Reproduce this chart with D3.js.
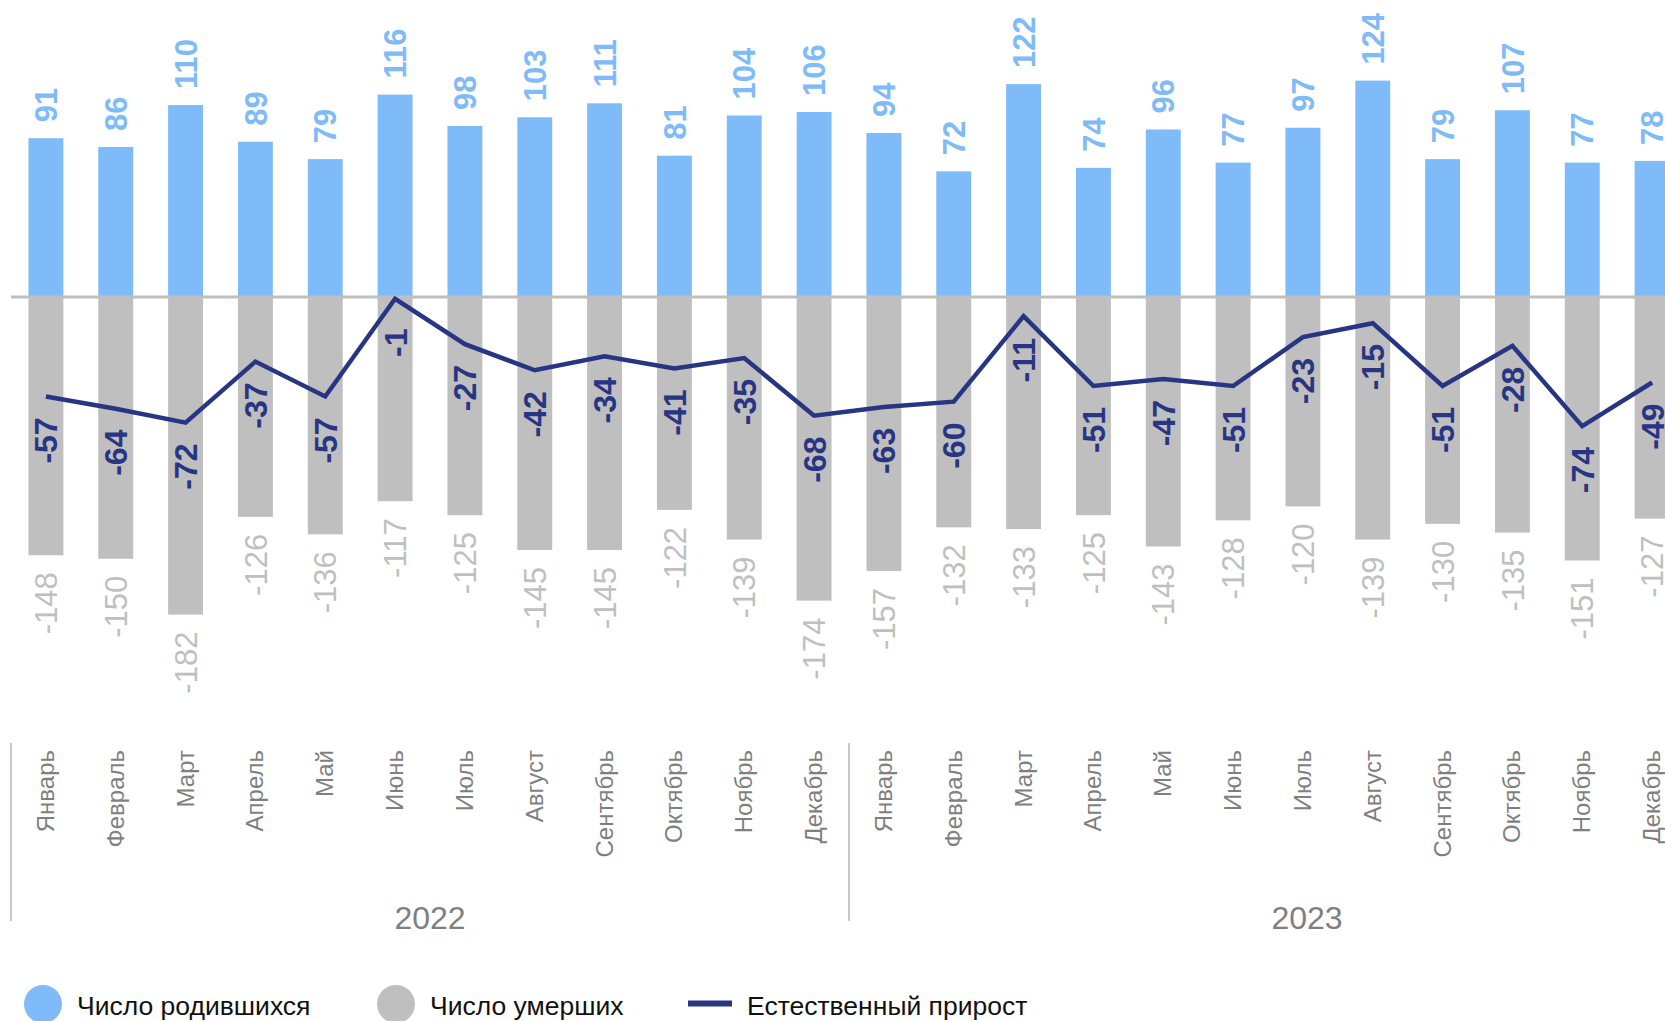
<!DOCTYPE html>
<meta charset="utf-8" />
<style>
  html, body { margin: 0; padding: 0; background: #fff; overflow: hidden; }
  svg { display: block; font-family: "Liberation Sans", Arial, sans-serif; }
</style>
<body>
<div id="chart"></div>
<script src="https://cdn.jsdelivr.net/npm/d3@7"></script>
<script>
  // months and years of the category axis
  var meses = ["Январь", "Февраль", "Март", "Апрель", "Май", "Июнь",
               "Июль", "Август", "Сентябрь", "Октябрь", "Ноябрь", "Декабрь"];
  var anos = ["2022", "2023"];

  // series, 2022 then 2023
  var nascidos = [91, 86, 110, 89, 79, 116, 98, 103, 111, 81, 104, 106,
                  94, 72, 122, 74, 96, 77, 97, 124, 79, 107, 77, 78];
  var mortos = [-148, -150, -182, -126, -136, -117, -125, -145, -145, -122, -139, -174,
                -157, -132, -133, -125, -143, -128, -120, -139, -130, -135, -151, -127];
  var crescimento = [-57, -64, -72, -37, -57, -1, -27, -42, -34, -41, -35, -68,
                     -63, -60, -11, -51, -47, -51, -23, -15, -51, -28, -74, -49];

  var legendas = ["Число родившихся", "Число умерших", "Естественный прирост"];

  var corAzul = "#7fbaf9";
  var corCinza = "#bfbfbf";
  var corLinha = "#283583";
  var corEixo = "#7f7f7f";

  var largura = 1665, altura = 1021;

  // one row per month
  var dados = [];
  anos.forEach(function (ano, a) {
    meses.forEach(function (mes, m) {
      var i = a * 12 + m;
      dados.push({
        chave: ano + "-" + m,
        mes: mes,
        ano: ano,
        nasc: nascidos[i],
        mort: mortos[i],
        cresc: crescimento[i]
      });
    });
  });

  var svg = d3.select("#chart").append("svg")
    .attr("width", largura)
    .attr("height", altura);

  var x = d3.scaleBand()
    .domain(dados.map(function (d) { return d.chave; }))
    .range([11, 1687])
    .paddingInner(0.5)
    .paddingOuter(0.25);

  var y = d3.scaleLinear()
    .domain([-200, 150])
    .range([646, 35.25]);

  var meio = function (d) { return x(d.chave) + x.bandwidth() / 2; };

  // barras dos nascidos
  svg.selectAll(".nasc")
    .data(dados)
    .enter()
    .append("rect")
    .attr("class", "nasc")
    .attr("x", function (d) { return x(d.chave); })
    .attr("width", x.bandwidth())
    .attr("y", function (d) { return y(d.nasc); })
    .attr("height", function (d) { return y(0) - y(d.nasc); })
    .attr("fill", corAzul);

  // barras dos mortos
  svg.selectAll(".mort")
    .data(dados)
    .enter()
    .append("rect")
    .attr("class", "mort")
    .attr("x", function (d) { return x(d.chave); })
    .attr("width", x.bandwidth())
    .attr("y", y(0))
    .attr("height", function (d) { return y(d.mort) - y(0); })
    .attr("fill", corCinza);

  // linha do zero
  svg.append("line")
    .attr("x1", 11)
    .attr("x2", largura)
    .attr("y1", y(0))
    .attr("y2", y(0))
    .attr("stroke", corCinza)
    .attr("stroke-width", 3);

  // linha do crescimento natural
  var linha = d3.line()
    .x(meio)
    .y(function (d) { return y(d.cresc); });

  svg.append("path")
    .datum(dados)
    .attr("d", linha)
    .attr("fill", "none")
    .attr("stroke", corLinha)
    .attr("stroke-width", 4.5)
    .attr("stroke-linejoin", "miter");

  // rotulos
  svg.selectAll(".rotNasc")
    .data(dados)
    .enter()
    .append("text")
    .attr("class", "rotNasc")
    .attr("transform", function (d) {
      return "translate(" + meio(d) + "," + (y(d.nasc) - 16) + ") rotate(-90)";
    })
    .attr("dy", "0.36em")
    .attr("text-anchor", "start")
    .attr("font-size", "31px")
    .attr("font-weight", "bold")
    .attr("fill", corAzul)
    .text(function (d) { return d.nasc; });

  svg.selectAll(".rotMort")
    .data(dados)
    .enter()
    .append("text")
    .attr("class", "rotMort")
    .attr("transform", function (d) {
      return "translate(" + meio(d) + "," + (y(d.mort) + 17) + ") rotate(-90)";
    })
    .attr("dy", "0.36em")
    .attr("text-anchor", "end")
    .attr("font-size", "31px")
    .attr("fill", corCinza)
    .text(function (d) { return d.mort; });

  svg.selectAll(".rotCresc")
    .data(dados)
    .enter()
    .append("text")
    .attr("class", "rotCresc")
    .attr("transform", function (d) {
      return "translate(" + meio(d) + "," + (y(d.cresc) + 44) + ") rotate(-90)";
    })
    .attr("dy", "0.36em")
    .attr("text-anchor", "middle")
    .attr("font-size", "32px")
    .attr("font-weight", "bold")
    .attr("fill", corLinha)
    .text(function (d) { return d.cresc; });

  // eixo de categorias
  svg.selectAll(".mes")
    .data(dados)
    .enter()
    .append("text")
    .attr("class", "mes")
    .attr("transform", function (d) {
      return "translate(" + meio(d) + ",750) rotate(-90)";
    })
    .attr("dy", "0.33em")
    .attr("text-anchor", "end")
    .attr("font-size", "24px")
    .attr("fill", corEixo)
    .text(function (d) { return d.mes; });

  // separadores dos anos
  var passo = x.step();
  var limites = anos.map(function (ano) {
    return x(ano + "-0") - (passo - x.bandwidth()) / 2;
  });
  var limiteDireito = 1765; // o eixo continua fora da imagem

  svg.selectAll(".sep")
    .data(limites)
    .enter()
    .append("line")
    .attr("class", "sep")
    .attr("x1", function (d) { return d; })
    .attr("x2", function (d) { return d; })
    .attr("y1", 743)
    .attr("y2", 921)
    .attr("stroke", "#c8c8c8")
    .attr("stroke-width", 2);

  svg.selectAll(".ano")
    .data(anos)
    .enter()
    .append("text")
    .attr("class", "ano")
    .attr("x", function (d, i) {
      var fim = i < anos.length - 1 ? limites[i + 1] : limiteDireito;
      return (limites[i] + fim) / 2;
    })
    .attr("y", 929)
    .attr("text-anchor", "middle")
    .attr("font-size", "32px")
    .attr("fill", corEixo)
    .text(function (d) { return d; });

  // legenda
  var leg = svg.append("g");

  leg.append("circle")
    .attr("cx", 43).attr("cy", 1004).attr("r", 19)
    .attr("fill", corAzul);
  leg.append("text")
    .attr("x", 77).attr("y", 1015)
    .attr("font-size", "26.5px").attr("fill", "#111")
    .text(legendas[0]);

  leg.append("circle")
    .attr("cx", 396).attr("cy", 1004).attr("r", 19)
    .attr("fill", corCinza);
  leg.append("text")
    .attr("x", 430).attr("y", 1015)
    .attr("font-size", "26.5px").attr("fill", "#111")
    .text(legendas[1]);

  leg.append("line")
    .attr("x1", 688).attr("x2", 732)
    .attr("y1", 1003.5).attr("y2", 1003.5)
    .attr("stroke", corLinha).attr("stroke-width", 6);
  leg.append("text")
    .attr("x", 747).attr("y", 1015)
    .attr("font-size", "26.5px").attr("fill", "#111")
    .text(legendas[2]);
</script>
</body>
